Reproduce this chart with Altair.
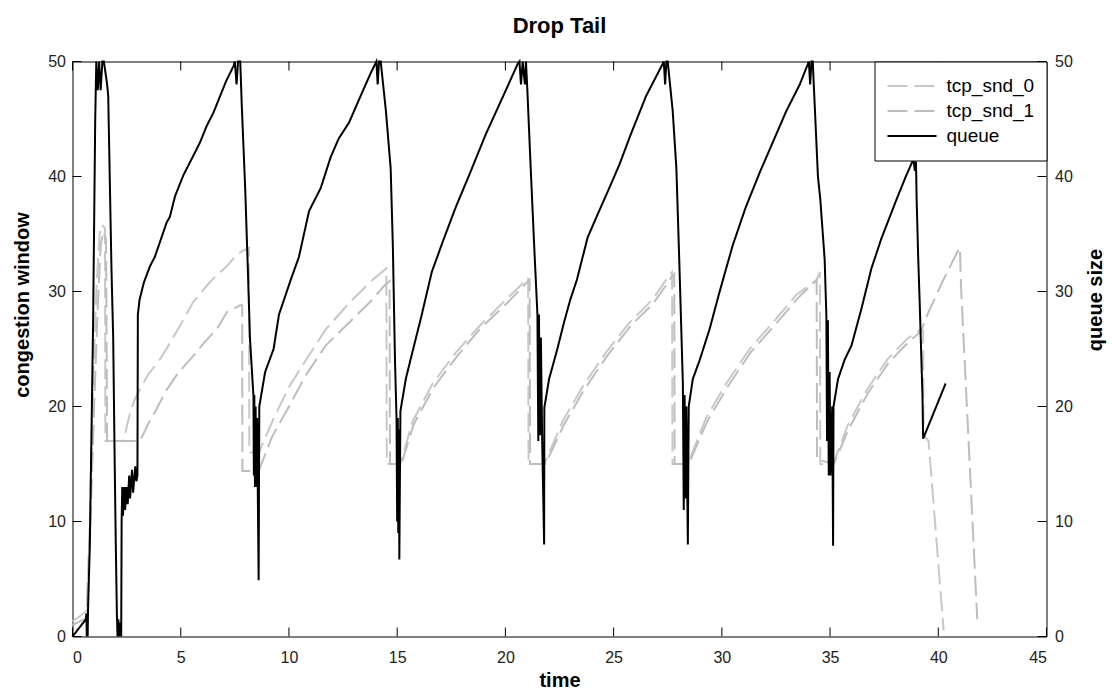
import altair as alt
import pandas as pd

# ---------------- data ----------------
queue_t = [0, 0.62, 0.64, 0.66, 0.68, 0.70, 0.72, 0.80, 0.95, 1.05, 1.10, 1.17, 1.23, 1.30, 1.38, 1.45,
           1.60, 1.65, 1.72, 1.80, 1.88, 1.95, 2.00, 2.05, 2.08, 2.12, 2.15, 2.20, 2.25, 2.27, 2.30,
           2.33, 2.40, 2.43, 2.50, 2.55, 2.62, 2.66, 2.75, 2.80, 2.90, 2.95, 3.00, 3.02, 3.10, 3.30,
           3.58, 3.80, 4.04, 4.35, 4.50, 4.74, 5.12, 5.58, 5.90, 6.20, 6.50, 6.82, 7.10, 7.44, 7.50,
           7.58, 7.65, 7.75, 7.82, 7.98, 8.10, 8.20, 8.36, 8.38, 8.40, 8.43, 8.46, 8.50, 8.53, 8.56,
           8.60, 8.63, 8.90, 9.29, 9.54, 10.08, 10.46, 10.93, 11.47, 11.93, 12.30, 12.78, 13.24,
           13.78, 14.04, 14.10, 14.16, 14.24, 14.48, 14.70, 14.80, 14.90, 14.97, 15.00, 15.03,
           15.05, 15.08, 15.10, 15.15, 15.40, 15.70, 16.10, 16.60, 17.10, 17.70, 18.30, 19.10,
           19.90, 20.57, 20.65, 20.72, 20.80, 20.90, 20.95, 21.02, 21.17, 21.33, 21.48, 21.52,
           21.55, 21.60, 21.64, 21.70, 21.79, 21.80, 22.02, 22.40, 22.72, 23.00, 23.30, 23.80,
           24.26, 24.80, 25.26, 25.80, 26.50, 27.27, 27.32, 27.38, 27.44, 27.50, 27.73, 27.90,
           28.04, 28.20, 28.24, 28.28, 28.32, 28.36, 28.43, 28.47, 28.66, 28.97, 29.43, 29.90,
           30.50, 31.10, 31.74, 32.36, 32.98, 33.60, 33.98, 34.02, 34.08, 34.14, 34.20, 34.44,
           34.55, 34.75, 34.83, 34.86, 34.90, 34.94, 34.98, 35.02, 35.10, 35.14, 35.16, 35.37,
           35.68, 35.99, 36.45, 36.91, 37.37, 38.07, 38.50, 38.85, 38.92, 38.97, 39.00, 39.07,
           39.15, 39.27, 39.30, 40.34]
queue_v = [0, 1.5, 2.0, 0, 2.0, 0, 2.5, 8, 27, 45, 50, 47.5, 50, 47.5, 50, 50,
           48, 47, 40, 32, 26, 15, 8, 2, 0, 1.5, 0, 1.2, 0, 10, 13,
           10.5, 13, 11, 13, 11.5, 14, 12, 14.5, 12.5, 14.8, 13.5, 14, 28, 29.3, 30.8,
           32.2, 33, 34.3, 36, 36.5, 38.3, 40.1, 41.8, 43, 44.4, 45.5, 47, 48.3, 49.6, 50,
           48, 50, 50, 46.2, 38.9, 32, 25.9, 20.9, 14, 21, 13, 20, 13, 19, 12.8,
           4.9, 20, 23, 25, 28, 31, 33, 37, 39, 41.7, 43.3, 44.7, 46.7,
           49, 50, 48, 50, 50, 45.7, 40.7, 34, 24, 19, 10, 19,
           9, 18, 6.7, 19.6, 22.4, 24.7, 27.7, 31.7, 34.3, 37.3, 40, 43.7,
           47, 49.8, 50, 48, 50, 48, 50, 47.3, 40.7, 34, 28, 17,
           28, 17.5, 26, 17, 8, 19.9, 22.4, 25, 27.4, 29.3, 31, 34.7,
           36.7, 39, 41, 43.7, 47, 49.8, 50, 48, 50, 50, 45.7, 40.7,
           32.3, 22, 11, 21, 12, 20, 8, 20, 22.4, 24, 26.7, 30,
           34, 37.3, 40.3, 43, 45.7, 48, 49.8, 50, 48, 50, 50, 40,
           38, 32.8, 27.9, 17, 27.5, 14, 23, 14, 20, 7.9, 20, 22.4,
           24.1, 25.3, 28.5, 32, 34.6, 38, 40, 41.5, 40.5, 41.3, 38, 33.1,
           28.5, 20.9, 17.2, 22]

snd0_t = [0, 0.65, 0.80, 0.95, 1.10, 1.25, 1.35, 1.50, 1.52, 2.35, 2.60, 2.85, 3.12, 3.50, 4.04,
          4.40, 4.80, 5.20, 5.58, 6.20, 6.60, 7.13, 7.50, 7.82, 8.15, 8.17, 8.61, 9.23, 10.00,
          10.77, 11.70, 12.78, 13.86, 14.50, 14.52, 15.15, 15.71, 16.64, 17.72, 18.80, 20.03,
          20.96, 21.05, 21.07, 21.80, 22.64, 23.56, 24.65, 25.73, 26.80, 27.60, 27.70, 27.72,
          28.43, 29.27, 30.20, 31.28, 32.36, 33.44, 34.37, 34.53, 34.55, 35.14, 35.80, 36.72,
          37.65, 38.57, 39.19, 39.30, 39.32, 39.55, 40.25]
snd0_v = [1.3, 2.2, 10, 22, 30, 35, 35.8, 35.5, 17, 17, 19, 20.5, 21.5, 22.8, 24.1,
          25.2, 26.5, 27.8, 29.1, 30.5, 31.3, 32.2, 33, 33.5, 33.8, 16, 16, 18.7, 21.7,
          24, 26.7, 29, 31, 32, 15, 15, 18.7, 22, 24.7, 27, 29.3,
          31, 31.2, 15, 15, 18.7, 21.7, 24.7, 27.3, 29.3, 31.5, 31.7, 15,
          15, 19, 22, 25, 27.3, 29.7, 31, 31.7, 15, 15, 18.3, 21.5,
          24.1, 25.9, 26.7, 26.6, 17.5, 17, 0.5]

snd1_t = [0, 0.65, 0.80, 1.00, 1.15, 1.30, 1.42, 1.55, 1.60, 3.12, 3.50, 3.89, 4.30, 4.80, 5.20,
          5.58, 6.10, 6.66, 7.13, 7.74, 7.84, 7.85, 8.60, 9.23, 10.00, 10.77, 11.70, 12.78,
          13.86, 14.40, 14.65, 14.67, 15.20, 15.75, 16.70, 17.78, 18.85, 20.08, 21.00, 21.12,
          21.14, 21.85, 22.70, 23.62, 24.70, 25.78, 26.85, 27.66, 27.80, 27.82, 28.47, 29.32,
          30.26, 31.33, 32.41, 33.50, 34.38, 34.40, 35.18, 35.85, 36.76, 37.70, 38.62, 39.19,
          39.50, 40.18, 40.95, 41.00, 41.05, 41.80]
snd1_v = [1.0, 1.6, 8, 20, 28, 34, 35.2, 34.5, 17, 17, 18.5, 19.8, 21.3, 22.7, 23.6,
          24.4, 25.6, 26.7, 28.2, 28.8, 28.8, 14.4, 14.4, 17.4, 20, 22.7, 25.3, 27.3,
          29.3, 30.5, 30.9, 15, 15, 18.4, 21.7, 24.4, 26.8, 29, 30.8, 31,
          15, 15, 18.4, 21.4, 24.4, 27, 29, 31.2, 31.5, 15, 15, 18.7,
          21.7, 24.7, 27, 29.4, 31, 15.4, 15, 18, 21.2, 23.8, 25.6, 26.5,
          28, 30.8, 33.7, 33.8, 30.5, 1.5]

series_names = ["tcp_snd_0", "tcp_snd_1", "queue"]
series_colors = ["#c8c8c8", "#bdbdbd", "#000000"]
series_dash = [[20, 7], [20, 7], [1, 0]]

x_ticks = [0, 5, 10, 15, 20, 25, 30, 35, 40, 45]
y_ticks = [0, 10, 20, 30, 40, 50]

# ---------------- tables ----------------
rows = []
for name, ts, vs in [("tcp_snd_0", snd0_t, snd0_v), ("tcp_snd_1", snd1_t, snd1_v), ("queue", queue_t, queue_v)]:
    for i, (t, v) in enumerate(zip(ts, vs)):
        rows.append({"series": name, "t": t, "v": v, "i": i})
df = pd.DataFrame(rows)
cw_df = df[df.series != "queue"]
q_df = df[df.series == "queue"]
xt_df = pd.DataFrame({"x": x_ticks})
yt_df = pd.DataFrame({"y": y_ticks})

W, H = 974, 575
FONT = "Liberation Sans"
TL = 9  # inward tick length

x_scale = alt.Scale(domain=[0, 45], nice=False, zero=False)
y_scale = alt.Scale(domain=[0, 50], nice=False, zero=False)

x_axis = alt.Axis(title="time", values=x_ticks, ticks=False, domain=False, grid=False,
                  labelPadding=13, labelFontSize=16, labelFont=FONT, labelColor="#222222",
                  titleFontSize=20, titleFont=FONT, titleFontWeight="bold", titleColor="black",
                  titleBaseline="alphabetic", titleY=50, titleX=W / 2)
left_axis = alt.Axis(title="congestion window", orient="left", values=y_ticks, ticks=False,
                     domain=False, grid=False, labelPadding=7, labelFontSize=16, labelFont=FONT,
                     labelColor="#222222", titleFontSize=20, titleFont=FONT, titleFontWeight="bold",
                     titleColor="black", titleAngle=270, titleBaseline="alphabetic",
                     titleAlign="center", titleX=-44, titleY=243)
right_axis = alt.Axis(title="queue size", orient="right", values=y_ticks, ticks=False,
                      domain=False, grid=False, labelPadding=8, labelFontSize=16, labelFont=FONT,
                      labelColor="#222222", titleFontSize=20, titleFont=FONT, titleFontWeight="bold",
                      titleColor="black", titleAngle=270, titleBaseline="alphabetic",
                      titleAlign="center", titleX=55, titleY=238)

legend = alt.Legend(title=None, orient="top-right", offset=0, strokeColor="black",
                    fillColor="white", padding=12, symbolType="stroke", symbolSize=2401,
                    symbolStrokeWidth=2, labelFontSize=19, labelFont=FONT, labelColor="black",
                    labelOffset=9, rowPadding=0, clipHeight=25, labelLimit=300)

color = alt.Color("series:N", scale=alt.Scale(domain=series_names, range=series_colors), legend=legend)
dash = alt.StrokeDash("series:N", scale=alt.Scale(domain=series_names, range=series_dash), legend=legend)

X = alt.X("t:Q", scale=x_scale, axis=x_axis)

cw_lines = alt.Chart(cw_df).mark_line(strokeWidth=2).encode(
    x=X, y=alt.Y("v:Q", scale=y_scale, axis=left_axis),
    color=color, strokeDash=dash, order=alt.Order("i:Q"))

left_ticks = alt.Chart(yt_df).mark_rule(color="black", strokeWidth=1).encode(
    y=alt.Y("y:Q", scale=y_scale, axis=left_axis), x=alt.value(0), x2=alt.value(TL))

bottom_ticks = alt.Chart(xt_df).mark_rule(color="black", strokeWidth=1).encode(
    x=alt.X("x:Q", scale=x_scale, axis=x_axis), y=alt.value(H), y2=alt.value(H - TL))
top_ticks = alt.Chart(xt_df).mark_rule(color="black", strokeWidth=1).encode(
    x=alt.X("x:Q", scale=x_scale, axis=x_axis), y=alt.value(0), y2=alt.value(TL))

left_group = alt.layer(cw_lines, left_ticks, bottom_ticks, top_ticks)

q_line = alt.Chart(q_df).mark_line(strokeWidth=2).encode(
    x=X, y=alt.Y("v:Q", scale=y_scale, axis=right_axis),
    color=color, strokeDash=dash, order=alt.Order("i:Q"))
right_ticks = alt.Chart(yt_df).mark_rule(color="black", strokeWidth=1).encode(
    y=alt.Y("y:Q", scale=y_scale, axis=right_axis), x=alt.value(W), x2=alt.value(W - TL))
right_group = alt.layer(q_line, right_ticks)

chart = alt.layer(left_group, right_group).resolve_scale(y="independent").properties(
    width=W, height=H,
    title=alt.TitleParams("Drop Tail", fontSize=22, fontWeight="bold", font=FONT, color="black",
                          anchor="middle", offset=16),
    autosize=alt.AutoSizeParams(type="none"),
    padding={"left": 72.5, "top": 61.5, "right": 67.5, "bottom": 54.5},
).configure(background="white").configure_view(stroke="#000000", strokeWidth=1, strokeOpacity=1)

chart.save("out.html", embed_options={"renderer": "svg", "actions": False})
